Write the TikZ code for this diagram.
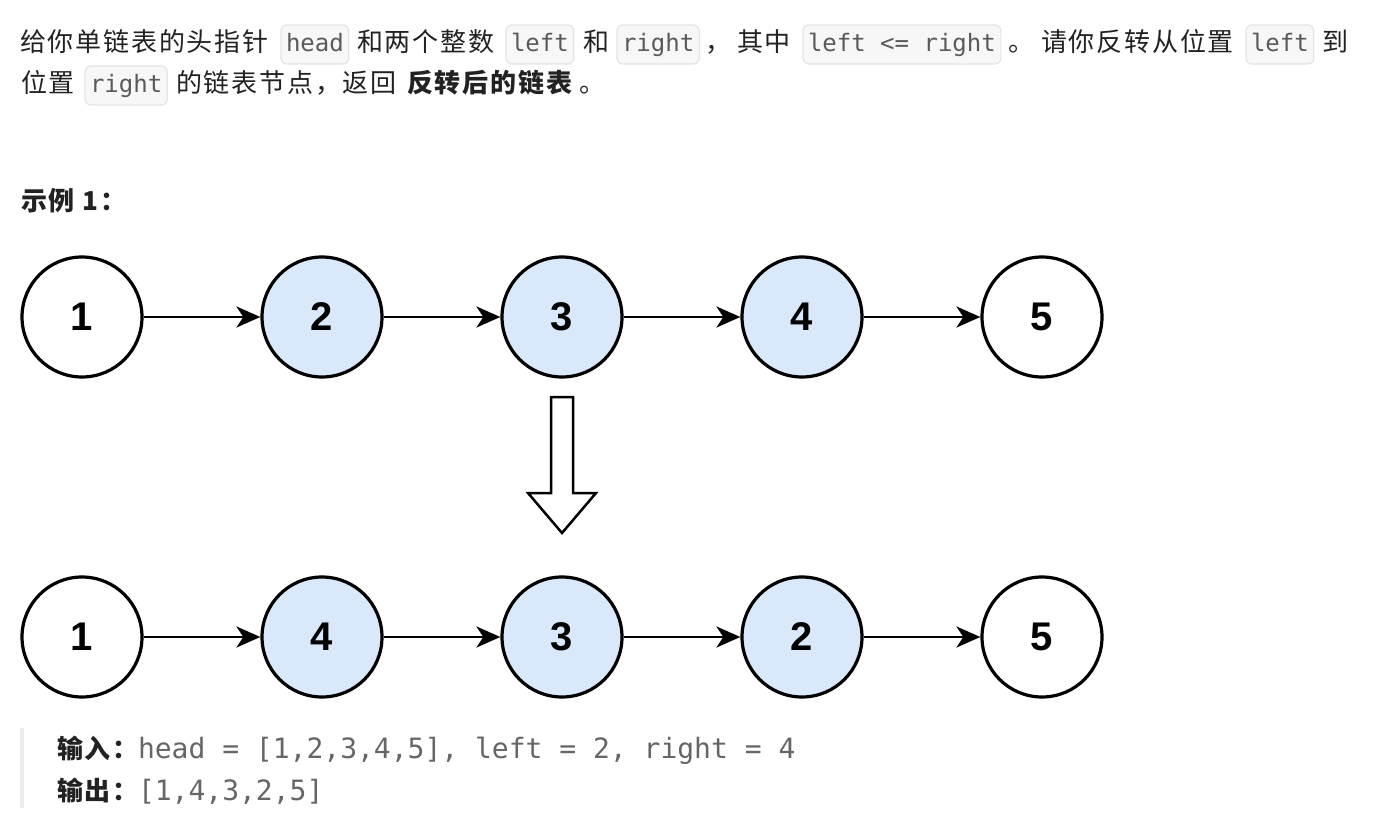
\documentclass[tikz,border=0pt]{standalone}
\usepackage{fontspec}
\setmainfont{Noto Sans CJK SC}[LetterSpace=7]
\newfontfamily\codefont{DejaVu Sans Mono}
\newfontfamily\numfont{Liberation Sans}
\usetikzlibrary{arrows.meta}
\definecolor{txt}{HTML}{222222}
\definecolor{codebg}{HTML}{F7F7F8}
\definecolor{codeborder}{HTML}{E4E4E6}
\definecolor{codetxt}{HTML}{5A5A5A}
\definecolor{codetxttwo}{HTML}{666666}
\definecolor{nodeblue}{HTML}{DAE8FC}
\definecolor{barcol}{HTML}{EBEBEB}
\begin{document}
\begin{tikzpicture}[x=1pt,y=-1pt,
  txtnode/.style={anchor=base west, inner sep=0pt, outer sep=0pt, text=txt, font=\fontsize{26}{30}\selectfont},
  boldtxt/.style={txtnode, font=\fontsize{26}{30}\selectfont\bfseries},
  codebox/.style={anchor=base west, fill=codebg, draw=codeborder, line width=1.2pt, rounded corners=6pt, inner xsep=5pt, inner ysep=8pt, outer sep=0pt, text height=19pt, text depth=4pt, text=codetxt, font=\codefont\fontsize{24}{28}\selectfont},
  excode/.style={anchor=base west, inner sep=0pt, outer sep=0pt, text=codetxttwo, font=\codefont\fontsize{28}{32}\selectfont},
  listnode/.style={circle, draw=black, line width=3.2pt, fill=white, minimum size=120pt, inner sep=0pt, text=black, font=\numfont\bfseries\fontsize{40}{44}\selectfont},
  hl/.style={fill=nodeblue},
  link/.style={-{Stealth[length=24pt,width=21pt,inset=7pt]}, line width=2.5pt, draw=black},
  bigarrow/.style={draw=black, line width=2.5pt, fill=white, line join=miter}
]
\useasboundingbox (0,0) rectangle (1374,834);
\fill[white] (0,0) rectangle (1374,834);

% ---- paragraph line 1
\node[txtnode] (t1) at (20,52) {给你单链表的头指针};
\node[codebox] (c1) at (281,52) {head};
\node[txtnode] (t2) at (357,52) {和两个整数};
\node[codebox] (c2) at (506,52) {left};
\node[txtnode] (t3) at (583,52) {和};
\node[codebox] (c3) at (617,52) {right};
\node[txtnode] (t4) at (705,52) {，};
\node[txtnode] (t5) at (737,52) {其中};
\node[codebox] (c4) at (803,52) {left <= right};
\node[txtnode] (t6) at (1008,52) {。};
\node[txtnode] (t7) at (1041,52) {请你反转从位置};
\node[codebox] (c5) at (1246,52) {left};
\node[txtnode] (t8) at (1322,52) {到};

% ---- paragraph line 2
\node[txtnode] (u1) at (21,93) {位置};
\node[codebox] (d1) at (85,93) {right};
\node[txtnode] (u2) at (176,93) {的链表节点，返回};
\node[boldtxt] (u3) at (407,93) {反转后的链表};
\node[txtnode] (u4) at (579,93) {。};

% ---- example title
\node[boldtxt] (ex) at (21,211) {示例 1：};

% ---- list before
\node[listnode] (a1) at (82,317) {1};
\node[listnode,hl] (a2) at (322,317) {2};
\node[listnode,hl] (a3) at (562,317) {3};
\node[listnode,hl] (a4) at (802,317) {4};
\node[listnode] (a5) at (1042,317) {5};
\draw[link] (a1) -- (a2);
\draw[link] (a2) -- (a3);
\draw[link] (a3) -- (a4);
\draw[link] (a4) -- (a5);

% ---- hollow down arrow
\draw[bigarrow] (551,397) -- (573,397) -- (573,493) -- (596,493) -- (562,533) -- (528,493) -- (551,493) -- cycle;

% ---- list after
\node[listnode] (b1) at (82,637) {1};
\node[listnode,hl] (b2) at (322,637) {4};
\node[listnode,hl] (b3) at (562,637) {3};
\node[listnode,hl] (b4) at (802,637) {2};
\node[listnode] (b5) at (1042,637) {5};
\draw[link] (b1) -- (b2);
\draw[link] (b2) -- (b3);
\draw[link] (b3) -- (b4);
\draw[link] (b4) -- (b5);

% ---- example block
\fill[barcol] (20,728) rectangle (24,808);
\node[boldtxt] (in) at (57,758) {输入：};
\node[excode] (inv) at (138,758) {head = [1,2,3,4,5], left = 2, right = 4};
\node[boldtxt] (out) at (57,800) {输出：};
\node[excode] (outv) at (138,800) {[1,4,3,2,5]};
\end{tikzpicture}
\end{document}
